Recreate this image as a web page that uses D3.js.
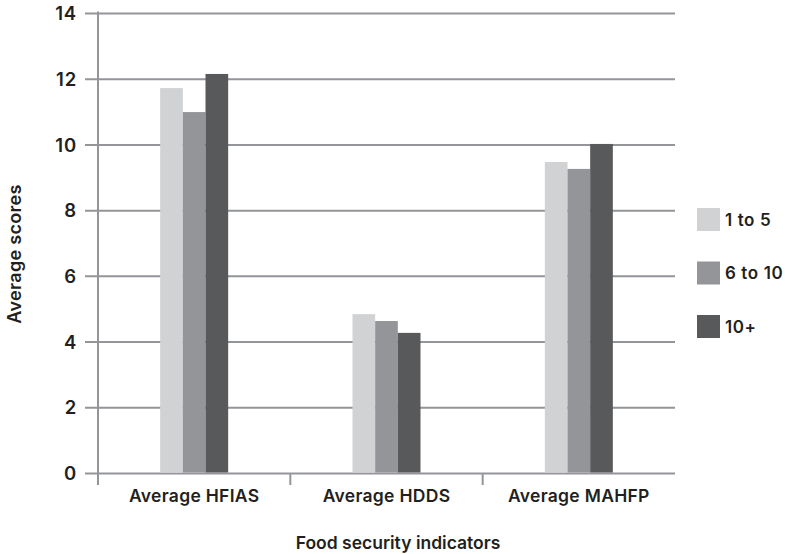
<!DOCTYPE html>
<html>
<head>
<meta charset="utf-8">
<script src="https://cdn.jsdelivr.net/npm/d3@7"></script>
<style>
  html, body { margin: 0; padding: 0; background: #fff; }
  svg text { font-family: Inter, "Liberation Sans", Arial, sans-serif; fill: #231f20; font-weight: 600; }
</style>
</head>
<body>
<svg id="chart" width="785" height="554"></svg>
<script>
const categories = ["Average HFIAS", "Average HDDS", "Average MAHFP"];
const seriesNames = ["1 to 5", "6 to 10", "10+"];
const values1to5 = [11.73, 4.85, 9.48];
const values6to10 = [11.0, 4.64, 9.27];
const values10plus = [12.16, 4.28, 10.03];
const yTicks = [0, 2, 4, 6, 8, 10, 12, 14];
const colors = ["#d1d2d4", "#939598", "#58595b"];

const seriesValues = [values1to5, values6to10, values10plus];

const svg = d3.select("#chart");
const plotLeft = 98, plotRight = 675, plotTop = 13.5, plotBottom = 473.5;

const y = d3.scaleLinear().domain([0, 14]).range([plotBottom, plotTop]);
const x = d3.scaleBand().domain(categories).range([plotLeft, plotRight]).padding(0);
const groupW = 68;
const x1 = d3.scaleBand().domain(seriesNames)
  .range([(x.bandwidth() - groupW) / 2, (x.bandwidth() + groupW) / 2]).padding(0);

const gridColor = "#939598";

// gridlines (including zero line)
svg.append("g").selectAll("line").data(yTicks).join("line")
  .attr("x1", plotLeft - 13).attr("x2", plotRight)
  .attr("y1", d => y(d)).attr("y2", d => y(d))
  .attr("stroke", gridColor).attr("stroke-width", 2);

// y axis line
svg.append("line")
  .attr("x1", plotLeft).attr("x2", plotLeft)
  .attr("y1", plotTop - 2).attr("y2", plotBottom + 11.5)
  .attr("stroke", gridColor).attr("stroke-width", 2);

// x category separator ticks
const sepTicks = categories.map(c => x(c));
svg.append("g").selectAll("line").data(sepTicks).join("line")
  .attr("x1", d => d).attr("x2", d => d)
  .attr("y1", plotBottom).attr("y2", plotBottom + 11.5)
  .attr("stroke", gridColor).attr("stroke-width", 2);

// bars
const groups = svg.append("g").selectAll("g").data(categories).join("g")
  .attr("transform", c => `translate(${x(c)},0)`);
groups.selectAll("rect")
  .data((c, i) => seriesNames.map((s, j) => ({ s, j, v: seriesValues[j][i] })))
  .join("rect")
  .attr("x", d => x1(d.s))
  .attr("width", x1.bandwidth())
  .attr("y", d => y(d.v))
  .attr("height", d => y(0) - y(d.v) - 1)
  .attr("fill", d => colors[d.j]);

// y tick labels
svg.append("g").selectAll("text").data(yTicks).join("text")
  .attr("x", 77).attr("y", d => y(d))
  .attr("dy", "0.36em")
  .attr("text-anchor", "end")
  .attr("font-size", 18.5)
  .attr("letter-spacing", 0.8)
  .text(d => d);

// category labels
svg.append("g").selectAll("text").data(categories).join("text")
  .attr("x", c => x(c) + x.bandwidth() / 2).attr("y", 502)
  .attr("text-anchor", "middle")
  .attr("font-size", 17.5)
  .attr("letter-spacing", 0.3)
  .text(c => c);

// axis titles
svg.append("text")
  .attr("x", 398).attr("y", 549)
  .attr("text-anchor", "middle")
  .attr("font-size", 17.5)
  .text("Food security indicators");

svg.append("text")
  .attr("transform", "translate(21,254) rotate(-90)")
  .attr("text-anchor", "middle")
  .attr("font-size", 18)
  .attr("letter-spacing", 0.3)
  .text("Average scores");

// legend
const legendY = d3.scalePoint().domain(seriesNames).range([208, 315]);
const lg = svg.append("g").selectAll("g").data(seriesNames).join("g")
  .attr("transform", s => `translate(697,${legendY(s)})`);
lg.append("rect").attr("width", 23).attr("height", 23)
  .attr("fill", (s, i) => colors[i]);
lg.append("text").attr("x", 28).attr("y", 11.5).attr("dy", "0.36em")
  .attr("font-size", 17)
  .attr("letter-spacing", 0.6)
  .text(s => s);
</script>
</body>
</html>
